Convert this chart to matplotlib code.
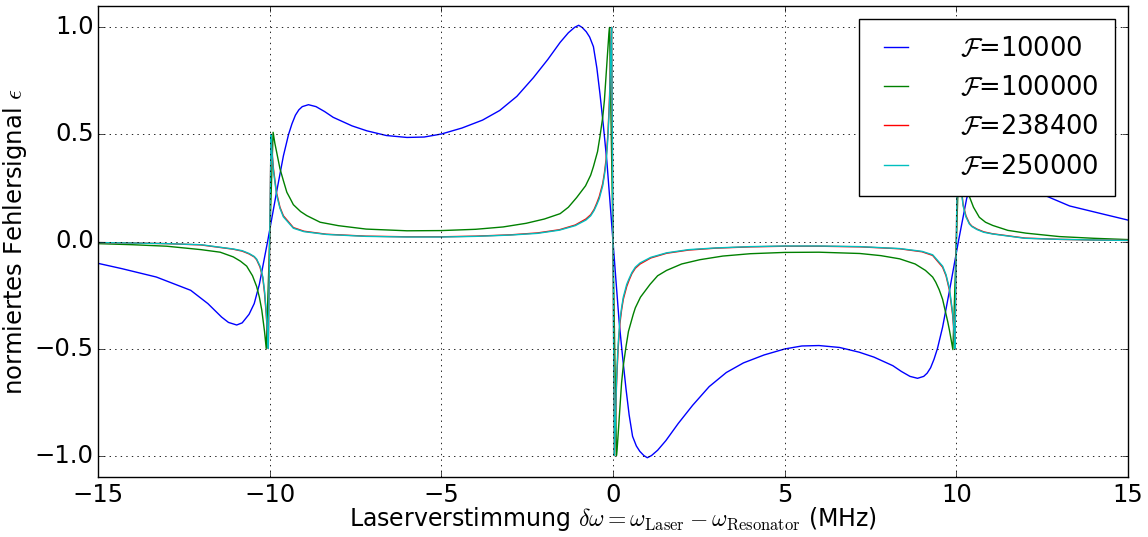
import matplotlib
matplotlib.use('Agg')
import matplotlib.pyplot as plt

# Finesse-Werte der vier Kurven
finesse = [10000, 100000, 238400, 250000]
farben = ['b', 'g', 'r', 'c']

# F = 10000
x_10000 = [-15, -14.3, -13.3, -12.3, -11.8, -11.4, -11.2, -10.96, -10.8, -10.6,
           -10.45, -10.3, -10.06, -9.8, -9.6, -9.45, -9.35, -9.25, -9.15, -9.05,
           -8.87, -8.65, -8.4, -8.15, -7.6, -7.17, -6.6, -6.0, -5.5, -5.0,
           -4.4, -3.8, -3.3, -2.8, -2.32, -1.9, -1.54, -1.3, -1.12, -1.0,
           -0.9, -0.78, -0.68, -0.57, -0.47, -0.38, -0.28, -0.18, -0.09, 0.0,
           0.09, 0.18, 0.28, 0.38, 0.47, 0.57, 0.68, 0.78, 0.9, 1.0,
           1.12, 1.3, 1.54, 1.9, 2.32, 2.8, 3.3, 3.8, 4.4, 5.0,
           5.5, 6.0, 6.6, 7.17, 7.6, 8.15, 8.4, 8.65, 8.87, 9.05,
           9.15, 9.25, 9.35, 9.45, 9.6, 9.8, 10.06, 10.3, 10.45, 10.6,
           10.8, 10.96, 11.2, 11.4, 11.8, 12.3, 12.8, 13.3, 14.3, 15]
y_10000 = [-0.102, -0.127, -0.166, -0.228, -0.29, -0.353, -0.378, -0.39, -0.38, -0.34,
           -0.29, -0.2, 0.0, 0.23, 0.4, 0.5, 0.55, 0.59, 0.615, 0.63,
           0.639, 0.63, 0.607, 0.58, 0.54, 0.517, 0.495, 0.486, 0.488, 0.502,
           0.53, 0.567, 0.612, 0.678, 0.765, 0.85, 0.93, 0.975, 1.0, 1.01,
           1.0, 0.98, 0.955, 0.91, 0.81, 0.69, 0.54, 0.377, 0.19, 0.0,
           -0.19, -0.377, -0.54, -0.69, -0.81, -0.91, -0.955, -0.98, -1.0, -1.01,
           -1.0, -0.975, -0.93, -0.85, -0.765, -0.678, -0.612, -0.567, -0.53, -0.502,
           -0.488, -0.486, -0.495, -0.517, -0.54, -0.58, -0.607, -0.63, -0.639, -0.63,
           -0.615, -0.59, -0.55, -0.5, -0.4, -0.23, 0.0, 0.2, 0.29, 0.34,
           0.38, 0.39, 0.378, 0.353, 0.29, 0.235, 0.2, 0.166, 0.127, 0.1]

# F = 100000
x_100000 = [-15, -14, -13, -12, -11.44, -11.06, -10.85, -10.67, -10.5, -10.38,
            -10.3, -10.23, -10.15, -10.1, -9.9, -9.85, -9.8, -9.7, -9.6, -9.5,
            -9.4, -9.31, -9.1, -8.92, -8.53, -8.0, -7.19, -6.0, -5.0, -4.0,
            -3.2, -2.53, -2.0, -1.54, -1.3, -1.06, -0.8, -0.65, -0.57, -0.45,
            -0.38, -0.3, -0.25, -0.2, -0.15, -0.12, -0.1, 0.0,
            0.1, 0.12, 0.15, 0.2, 0.25, 0.3, 0.38, 0.45, 0.59, 0.65,
            0.8, 1.08, 1.3, 1.56, 2.0, 2.53, 3.2, 4.0, 5.0, 6.0,
            7.19, 7.8, 8.35, 8.8, 9.1, 9.31, 9.4, 9.5, 9.6, 9.7,
            9.75, 9.8, 9.85, 9.9, 10.1, 10.15, 10.2, 10.3, 10.38, 10.5,
            10.67, 10.85, 11.06, 11.5, 12.03, 13.0, 14.0, 15]
y_100000 = [-0.01, -0.015, -0.022, -0.038, -0.05, -0.072, -0.092, -0.115, -0.16, -0.21,
            -0.26, -0.32, -0.42, -0.5, 0.51, 0.46, 0.42, 0.34, 0.284, 0.23,
            0.2, 0.172, 0.14, 0.121, 0.09, 0.074, 0.058, 0.05, 0.051, 0.057,
            0.068, 0.085, 0.105, 0.13, 0.16, 0.205, 0.26, 0.31, 0.35, 0.42,
            0.49, 0.58, 0.66, 0.78, 0.9, 0.97, 1.0, 0.0,
            -1.0, -0.97, -0.9, -0.78, -0.66, -0.58, -0.49, -0.42, -0.34, -0.31,
            -0.26, -0.2, -0.16, -0.135, -0.105, -0.085, -0.068, -0.057, -0.051, -0.05,
            -0.056, -0.066, -0.081, -0.105, -0.135, -0.166, -0.19, -0.225, -0.27, -0.34,
            -0.375, -0.415, -0.46, -0.505, 0.5, 0.43, 0.37, 0.27, 0.21, 0.16,
            0.113, 0.09, 0.075, 0.052, 0.039, 0.023, 0.015, 0.009]

# F = 238400 und F = 250000 (gleiche Stuetzstellen)
x_hoch = [-15, -14, -13, -12, -11.06, -10.8, -10.6, -10.45, -10.38, -10.28,
          -10.2, -10.15, -10.1, -10.07, -10.04, -9.96, -9.93, -9.89, -9.8, -9.7,
          -9.6, -9.31, -9.0, -8.35, -7.2, -6.0, -5.0, -4.0, -3.0, -2.2,
          -1.56, -1.1, -0.79, -0.65, -0.55, -0.47, -0.4, -0.35, -0.3, -0.25,
          -0.2, -0.15, -0.12, -0.1, -0.08, -0.06, -0.04, 0.0,
          0.04, 0.06, 0.08, 0.1, 0.12, 0.15, 0.2, 0.25, 0.3, 0.35,
          0.4, 0.47, 0.55, 0.65, 0.79, 1.1, 1.56, 2.2, 3.0, 4.0,
          5.0, 6.0, 7.2, 8.35, 9.0, 9.31, 9.6, 9.7, 9.8, 9.89,
          9.93, 9.96, 10.04, 10.07, 10.1, 10.15, 10.2, 10.28, 10.38, 10.45,
          10.6, 10.8, 11.06, 12, 13, 14, 15]
y_238400 = [-0.005, -0.007, -0.01, -0.016, -0.036, -0.045, -0.058, -0.072, -0.085, -0.12,
            -0.17, -0.24, -0.34, -0.42, -0.5, 0.5, 0.42, 0.34, 0.228, 0.16,
            0.12, 0.065, 0.048, 0.034, 0.025, 0.022, 0.022, 0.025, 0.031, 0.04,
            0.055, 0.077, 0.105, 0.125, 0.15, 0.18, 0.21, 0.24, 0.27, 0.32,
            0.385, 0.5, 0.6, 0.68, 0.8, 0.92, 1.0, 0.0,
            -1.0, -0.92, -0.8, -0.68, -0.6, -0.5, -0.385, -0.32, -0.27, -0.24,
            -0.21, -0.18, -0.15, -0.125, -0.105, -0.077, -0.055, -0.04, -0.031, -0.025,
            -0.022, -0.022, -0.025, -0.034, -0.048, -0.065, -0.12, -0.16, -0.228, -0.34,
            -0.42, -0.5, 0.5, 0.42, 0.34, 0.24, 0.17, 0.12, 0.085, 0.072,
            0.058, 0.045, 0.036, 0.016, 0.01, 0.007, 0.005]
y_250000 = [-0.005, -0.007, -0.01, -0.015, -0.035, -0.043, -0.056, -0.07, -0.082, -0.115,
            -0.165, -0.23, -0.33, -0.41, -0.5, 0.5, 0.41, 0.33, 0.22, 0.155,
            0.115, 0.062, 0.046, 0.033, 0.024, 0.021, 0.021, 0.024, 0.03, 0.038,
            0.053, 0.074, 0.1, 0.12, 0.145, 0.173, 0.2, 0.23, 0.26, 0.31,
            0.37, 0.48, 0.58, 0.66, 0.78, 0.91, 1.0, 0.0,
            -1.0, -0.91, -0.78, -0.66, -0.58, -0.48, -0.37, -0.31, -0.26, -0.23,
            -0.2, -0.173, -0.145, -0.12, -0.1, -0.074, -0.053, -0.038, -0.03, -0.024,
            -0.021, -0.021, -0.024, -0.033, -0.046, -0.062, -0.115, -0.155, -0.22, -0.33,
            -0.41, -0.5, 0.5, 0.41, 0.33, 0.23, 0.165, 0.115, 0.082, 0.07,
            0.056, 0.043, 0.035, 0.015, 0.01, 0.007, 0.005]

kurven = [(x_10000, y_10000), (x_100000, y_100000), (x_hoch, y_238400), (x_hoch, y_250000)]


def plotter():
    plt.style.use('classic')
    plt.rcParams['mathtext.fontset'] = 'cm'

    fig = plt.figure(figsize=(11.48, 5.37), dpi=100, facecolor='white')
    ax = fig.add_axes([98 / 1148, 1 - 477 / 537, 1030 / 1148, 471 / 537])

    for (x, y), f, c in zip(kurven, finesse, farben):
        ax.plot(x, y, color=c, linewidth=1.0, label=r'$\mathcal{F}$=%d' % f)

    ax.set_xlim(-15, 15)
    ax.set_ylim(-1.1, 1.1)
    ax.set_xticks([-15, -10, -5, 0, 5, 10, 15])
    ax.set_yticks([-1.0, -0.5, 0.0, 0.5, 1.0])
    ax.tick_params(labelsize=17.5)
    ax.tick_params(axis='y', pad=3)
    ax.tick_params(axis='x', pad=4)
    ax.grid(True, color='k', linestyle=':', linewidth=0.6)

    ax.set_xlabel(r'Laserverstimmung $\delta\omega = \omega_{\rm Laser} - \omega_{\rm Resonator}$ (MHz)',
                  fontsize=17, labelpad=-1)
    ax.set_ylabel(r'normiertes Fehlersignal $\epsilon$', fontsize=17.5, labelpad=4)

    ax.legend(loc='upper right', fontsize=18.5, handlelength=1.56, handletextpad=1.7,
              borderpad=0.65, borderaxespad=0.5, labelspacing=0.52, numpoints=2,
              fancybox=False)

    fig.savefig('out.png', dpi=100, facecolor='white')


if __name__ == "__main__":
    plotter()
